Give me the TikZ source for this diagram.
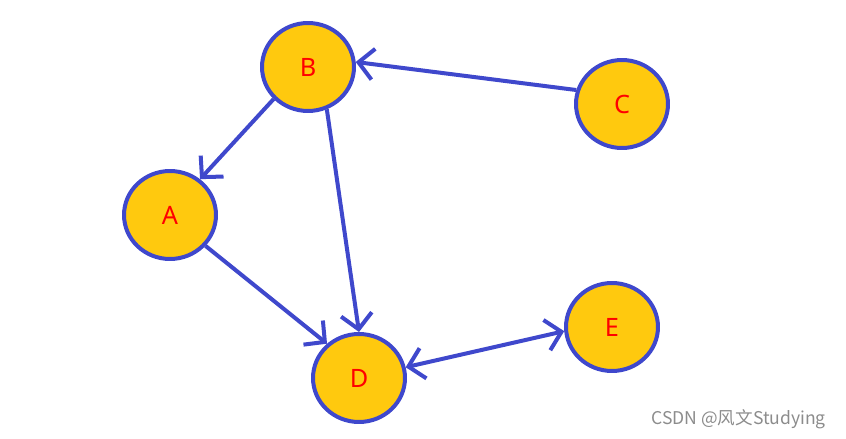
\documentclass[tikz,border=0pt]{standalone}
\usepackage{fontspec}
\setmainfont{Noto Sans}
\newfontfamily\cjk{Noto Sans CJK SC}
\usepackage{tikz}
\usetikzlibrary{arrows.meta,positioning,shapes.geometric}
\definecolor{vfill}{HTML}{FFC90E}
\definecolor{vline}{HTML}{3F48CC}

\begin{document}
\begin{tikzpicture}[
    x=0.02cm, y=-0.02cm,
    vertex/.style={ellipse, draw=vline, line width=0.08cm, fill=vfill, minimum width=1.84cm, minimum height=1.76cm, text=red, font=\Large, inner sep=0pt},
    edge/.style={draw=vline, line width=0.08cm, -{Straight Barb[length=0.3cm, width=0.62cm, line width=0.08cm]}},
    both/.style={draw=vline, line width=0.08cm, {Straight Barb[length=0.3cm, width=0.62cm, line width=0.08cm]}-{Straight Barb[length=0.3cm, width=0.62cm, line width=0.08cm]}}
]
\useasboundingbox (0,0) rectangle (846,439);
\node[vertex] (B) at (308,67) {B};
\node[vertex] (C) at (622,104) {C};
\node[vertex] (A) at (170,215) {A};
\node[vertex] (D) at (359,378) {D};
\node[vertex] (E) at (612,327) {E};
\draw[edge] (C.163) -- (B.6);
\draw[edge] (B.-137) -- (A.50);
\draw[edge] (B.-66) -- (D.90);
\draw[edge] (A.-41) -- (D.133);
\draw[both] (D.13) -- (E.185);
\node[anchor=east, text=black!45, font=\cjk] (mark) at (832,419) {CSDN @风文Studying};
\end{tikzpicture}
\end{document}
